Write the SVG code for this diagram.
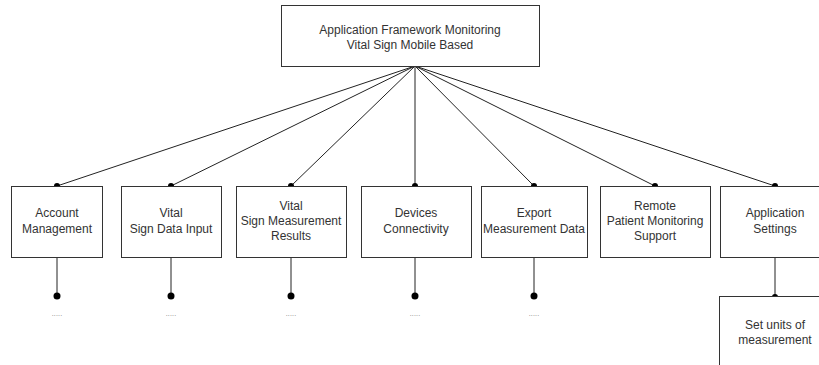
<svg xmlns="http://www.w3.org/2000/svg" width="819" height="365" viewBox="0 0 819 365">
<style>
.box{fill:#fff;stroke:#333;stroke-width:1}
.t{font-family:"Liberation Sans",Arial,sans-serif;font-size:12px;fill:#333;text-anchor:middle}
.dots{font-family:"Liberation Sans",Arial,sans-serif;font-size:7px;letter-spacing:0.2px;fill:#777;text-anchor:middle}
.ln{stroke:#222;stroke-width:1;fill:none}
.dot{fill:#000}
</style>
<rect width="819" height="365" fill="#fff"/>
<g id="connectors">
<line class="ln" x1="415" y1="66" x2="57" y2="186"/>
<line class="ln" x1="415" y1="66" x2="171" y2="186"/>
<line class="ln" x1="415" y1="66" x2="291" y2="186"/>
<line class="ln" x1="415" y1="66" x2="415" y2="186"/>
<line class="ln" x1="415" y1="66" x2="534" y2="186"/>
<line class="ln" x1="415" y1="66" x2="655" y2="186"/>
<line class="ln" x1="415" y1="66" x2="775" y2="186"/>
<circle class="dot" cx="57" cy="186" r="3"/>
<circle class="dot" cx="171" cy="186" r="3"/>
<circle class="dot" cx="291" cy="186" r="3"/>
<circle class="dot" cx="415" cy="186" r="3"/>
<circle class="dot" cx="534" cy="186" r="3"/>
<circle class="dot" cx="655" cy="186" r="3"/>
<circle class="dot" cx="775" cy="186" r="3"/>
<line class="ln" x1="57" y1="257" x2="57" y2="296"/>
<line class="ln" x1="171" y1="257" x2="171" y2="296"/>
<line class="ln" x1="291" y1="257" x2="291" y2="296"/>
<line class="ln" x1="415" y1="257" x2="415" y2="296"/>
<line class="ln" x1="534" y1="257" x2="534" y2="296"/>
<line class="ln" x1="775" y1="257" x2="775" y2="297"/>
<circle class="dot" cx="57" cy="296" r="3.5"/>
<circle class="dot" cx="171" cy="296" r="3.5"/>
<circle class="dot" cx="291" cy="296" r="3.5"/>
<circle class="dot" cx="415" cy="296" r="3.5"/>
<circle class="dot" cx="534" cy="296" r="3.5"/>
<circle class="dot" cx="775" cy="297" r="3"/>
</g>
<g id="root">
<rect class="box" x="281.5" y="5.5" width="258" height="61"/>
<text class="t" x="410" y="34">Application Framework Monitoring</text>
<text class="t" x="410" y="49">Vital Sign Mobile Based</text>
</g>
<g id="account">
<rect class="box" x="11.5" y="186.5" width="91" height="71"/>
<text class="t" x="57" y="217">Account</text>
<text class="t" x="57" y="233">Management</text>
</g>
<g id="vitalinput">
<rect class="box" x="121.5" y="186.5" width="100" height="71"/>
<text class="t" x="171" y="217">Vital</text>
<text class="t" x="171" y="233">Sign Data Input</text>
</g>
<g id="results">
<rect class="box" x="236.5" y="186.5" width="110" height="71"/>
<text class="t" x="291" y="210">Vital</text>
<text class="t" x="291" y="225">Sign Measurement</text>
<text class="t" x="291" y="240">Results</text>
</g>
<g id="devices">
<rect class="box" x="361.5" y="186.5" width="110" height="71"/>
<text class="t" x="416" y="217">Devices</text>
<text class="t" x="416" y="233">Connectivity</text>
</g>
<g id="export">
<rect class="box" x="481.5" y="186.5" width="106" height="71"/>
<text class="t" x="534" y="217">Export</text>
<text class="t" x="534" y="233">Measurement Data</text>
</g>
<g id="remote">
<rect class="box" x="600.5" y="186.5" width="110" height="71"/>
<text class="t" x="655" y="210">Remote</text>
<text class="t" x="655" y="225">Patient Monitoring</text>
<text class="t" x="655" y="240">Support</text>
</g>
<g id="settings">
<rect class="box" x="720.5" y="186.5" width="110" height="71"/>
<text class="t" x="775" y="217">Application</text>
<text class="t" x="775" y="233">Settings</text>
</g>
<g id="units">
<rect class="box" x="719.5" y="296.5" width="112" height="80"/>
<text class="t" x="775" y="329">Set units of</text>
<text class="t" x="775" y="344">measurement</text>
</g>
<g id="ellipses">
<text class="dots" x="57" y="316">.....</text>
<text class="dots" x="171" y="316">.....</text>
<text class="dots" x="291" y="316">.....</text>
<text class="dots" x="415" y="316">.....</text>
<text class="dots" x="534" y="316">.....</text>
</g>
</svg>
